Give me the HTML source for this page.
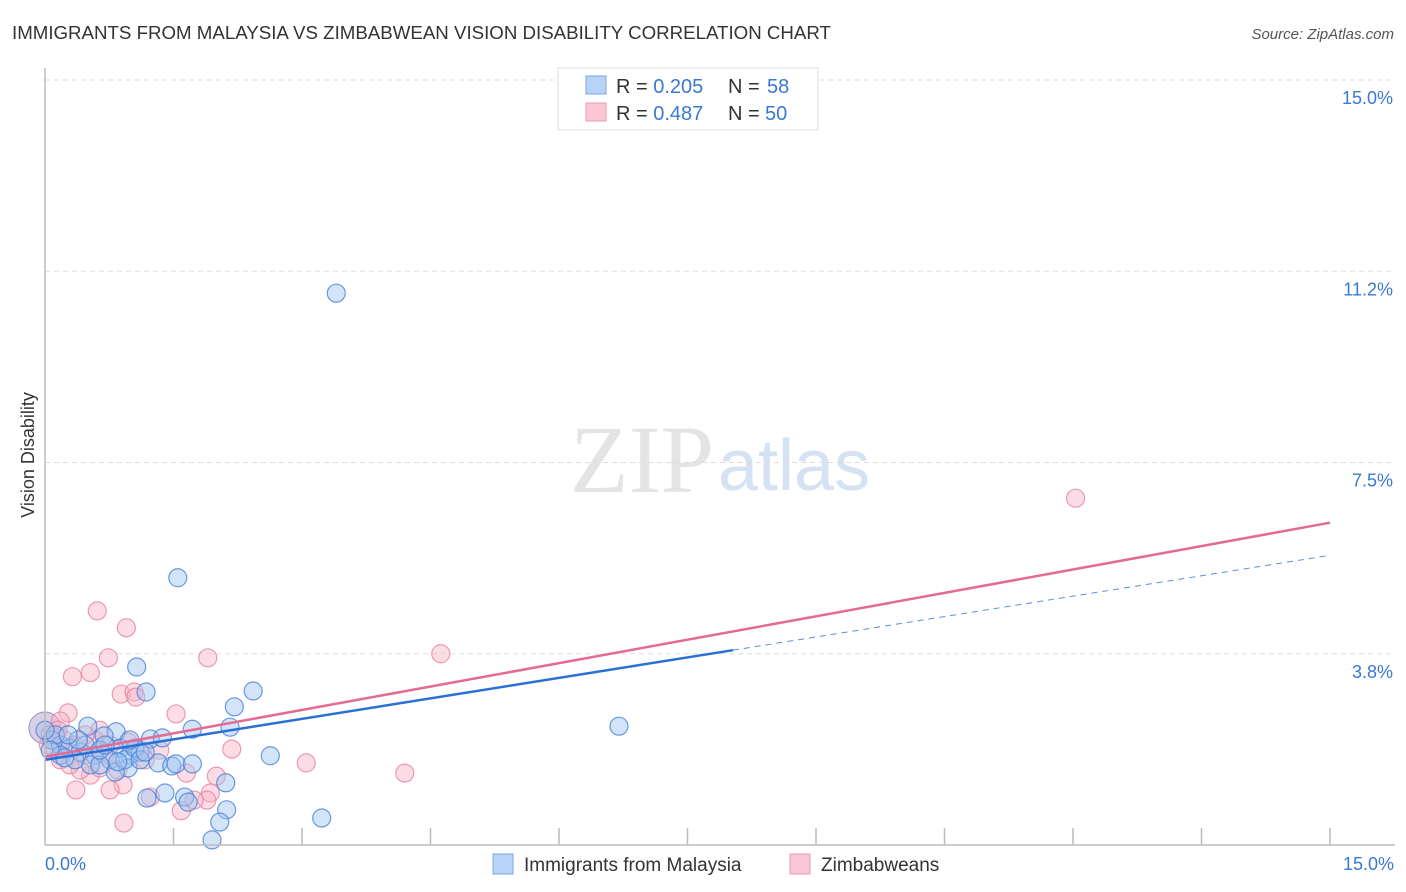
<!DOCTYPE html>
<html><head><meta charset="utf-8"><style>
body{margin:0;background:#fff;font-family:"Liberation Sans",sans-serif;}
svg{display:block}
</style></head><body>
<svg width="1406" height="892" id="svg">
<text x="12" y="39" font-size="18.7" fill="#333">IMMIGRANTS FROM MALAYSIA VS ZIMBABWEAN VISION DISABILITY CORRELATION CHART</text>
<text x="1394" y="39" font-size="15" fill="#555" font-style="italic" text-anchor="end">Source: ZipAtlas.com</text>
<text x="714" y="492" font-size="96" fill="#e4e4e4" text-anchor="end" font-family="Liberation Serif">ZIP</text>
<text x="718" y="490" font-size="72" fill="#d4e2f4">atlas</text>
<text transform="translate(34,455) rotate(-90)" font-size="18" fill="#333" text-anchor="middle">Vision Disability</text>
<g id="grid"></g><g id="pts"></g><g id="lines"></g>
<line x1="45" y1="68" x2="45" y2="845" stroke="#bbb" stroke-width="1.5"/>
<line x1="45" y1="845" x2="1395" y2="845" stroke="#bbb" stroke-width="1.5"/>
<text x="45" y="870" font-size="18" fill="#3a78d4">0.0%</text>
<text x="1394" y="870" font-size="18" fill="#3a78d4" text-anchor="end">15.0%</text>
<g>
<rect x="558" y="68" width="260" height="62" fill="#fff" stroke="#ddd"/>
<rect x="586" y="76" width="20" height="18" fill="#b8d3f5" stroke="#7aa7e6"/>
<rect x="586" y="103" width="20" height="18" fill="#f9c8d6" stroke="#ec97b0"/>
<text x="616" y="93" font-size="20" fill="#333">R = <tspan fill="#3a78d4">0.205</tspan><tspan x="728">N = </tspan><tspan fill="#3a78d4" x="767">58</tspan></text>
<text x="616" y="120" font-size="20" fill="#333">R = <tspan fill="#3a78d4">0.487</tspan><tspan x="728">N = </tspan><tspan fill="#3a78d4" x="765">50</tspan></text>
</g>
<g>
<rect x="493" y="854" width="20" height="20" fill="#b8d3f5" stroke="#7aa7e6"/>
<text x="524" y="871" font-size="19" fill="#333">Immigrants from Malaysia</text>
<rect x="790" y="854" width="20" height="20" fill="#f9c8d6" stroke="#ec97b0"/>
<text x="821" y="871" font-size="19" fill="#333">Zimbabweans</text>
</g>
</svg>
<script>
const yTicks=[3.75,7.5,11.25,15];
const yTickLabels=["3.8%","7.5%","11.2%","15.0%"];
const blueX=[3.40,1.55,1.07,1.18,2.43,2.21,1.72,2.16,6.70,0.50,0.83,0.69,1.23,1.37,2.63,0.08,0.18,0.29,0.41,0.58,0.88,0.99,1.11,0.76,0.53,1.32,1.48,1.53,1.72,0.97,0.82,0.64,1.19,1.40,1.63,1.67,2.11,2.12,2.04,3.23,1.95,0.18,0.35,0.47,0.12,0.23,0.93,1.05,0.00,0.06,0.64,1.11,0.85,0.70,0.39,0.27,0.99,1.17];
const blueY=[10.82,5.24,3.49,3.00,3.02,2.71,2.27,2.31,2.33,2.33,2.22,2.14,2.08,2.10,1.75,2.06,1.96,1.90,1.82,1.76,1.90,1.76,1.82,1.67,1.57,1.61,1.55,1.59,1.59,1.51,1.43,1.57,0.92,1.02,0.94,0.84,1.22,0.69,0.45,0.53,0.10,1.76,1.67,1.96,2.16,1.71,1.67,1.90,2.25,1.86,1.86,1.67,1.63,1.96,2.06,2.16,2.06,1.82];
const pinkX=[12.03,0.61,0.95,0.74,1.90,0.32,0.53,4.62,0.89,1.04,1.06,1.53,0.27,0.64,0.18,2.18,3.05,4.20,1.65,2.00,0.91,0.76,0.36,1.93,1.89,1.59,1.74,1.23,0.92,0.53,0.41,0.18,0.12,0.23,0.35,0.47,0.29,0.06,0.58,0.76,0.97,1.11,0.70,1.17,1.34,0.04,0.15,0.47,0.85,0.64];
const pinkY=[6.80,4.59,4.26,3.67,3.67,3.30,3.38,3.75,2.96,3.00,2.90,2.57,2.59,2.25,2.43,1.88,1.61,1.41,1.41,1.35,1.18,1.08,1.08,1.02,0.88,0.67,0.88,0.94,0.43,1.37,1.47,1.67,1.86,2.06,1.96,1.76,1.57,2.16,2.06,1.96,2.02,1.86,1.76,1.67,1.86,1.96,2.25,2.16,1.47,1.51];
const blueLine=[[0,1.67],[8.03,3.82]];
const blueDash=[[8.03,3.82],[15,5.68]];
const pinkLine=[[0,1.73],[15,6.32]];
const sx=v=>45+v/15*1285, sy=v=>845-v/15*765;
const NS="http://www.w3.org/2000/svg";
function mk(t,a,p){const e=document.createElementNS(NS,t);for(const k in a)e.setAttribute(k,a[k]);document.getElementById(p).appendChild(e);return e;}
yTicks.forEach((t,i)=>{
 const l=mk('line',{x1:45,x2:1395,y1:sy(t),y2:sy(t),stroke:'#ddd','stroke-dasharray':'5,4'},'grid');
 
 
 const tx=mk('text',{x:1393,y:sy(t)+24,'font-size':18,fill:'#3a78d4','text-anchor':'end'},'grid');
 tx.textContent=yTickLabels[i];
 
 
});
for(let i=1;i<=10;i++){const v=i*1.5;const l=mk('line',{x1:sx(v),x2:sx(v),y1:828,y2:845,stroke:'#bbb','stroke-width':1.5},'grid');
 
 }
const big=mk('circle',{cx:45,cy:728,r:16,fill:'rgba(170,150,200,0.45)',stroke:'#a08cc8'},'pts');


pinkX.forEach((x,i)=>{const c=mk('circle',{cx:sx(x),cy:sy(pinkY[i]),r:9,fill:'rgba(248,180,200,0.45)',stroke:'rgba(232,130,160,0.8)','stroke-width':1.2},'pts');
 
 });
blueX.forEach((x,i)=>{const c=mk('circle',{cx:sx(x),cy:sy(blueY[i]),r:9,fill:'rgba(160,196,240,0.45)',stroke:'rgba(70,130,215,0.8)','stroke-width':1.2},'pts');
 
 });
function ln(p,st,dash,name){const l=mk('line',{x1:sx(p[0][0]),y1:sy(p[0][1]),x2:sx(p[1][0]),y2:sy(p[1][1]),stroke:st,'stroke-width':dash?1:2.5},'lines');if(dash)l.setAttribute('stroke-dasharray','6,5');
 
 }
ln(pinkLine,'#e46a94',false,'zimbabwean-trend-line');
ln(blueLine,'#2a6fd6',false,'malaysia-trend-line');
ln(blueDash,'#5a8fd8',true,'malaysia-trend-extension');
</script>
</body></html>
